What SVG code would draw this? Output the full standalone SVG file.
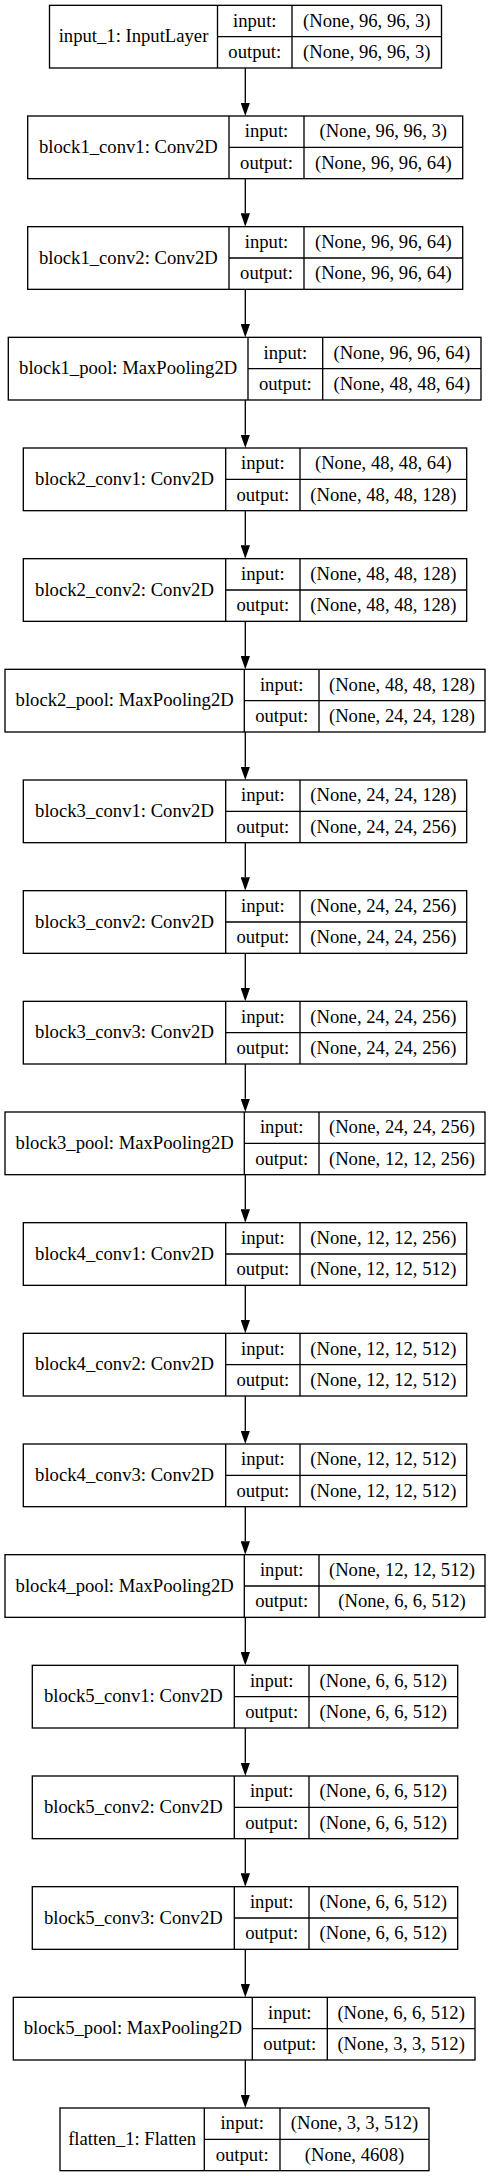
<svg xmlns="http://www.w3.org/2000/svg" width="491" height="2176" viewBox="0 0 491 2176">
<style>
.b{fill:#fff;stroke:#000;stroke-width:1.33}
.l{stroke:#000;stroke-width:1.33;fill:none}
text{font-family:"Liberation Serif","Times New Roman",serif;font-size:18.67px;fill:#000;text-anchor:middle}
.e{stroke:#000;stroke-width:1.33;fill:none;marker-end:url(#ah)}
</style>
<defs>
<marker id="ah" viewBox="0 0 10 7" refX="0" refY="3.5" markerWidth="13.33" markerHeight="9.33" markerUnits="userSpaceOnUse" orient="auto">
<path d="M0,0 L10,3.5 L0,7 z" fill="#000"/>
</marker>
</defs>
<rect width="491" height="2176" fill="#fff"/>
<g id="connectors">
<line class="e" x1="245.3" y1="68" x2="245.3" y2="102.67"/>
<line class="e" x1="245.3" y1="178.67" x2="245.3" y2="213.33"/>
<line class="e" x1="245.3" y1="289.33" x2="245.3" y2="324"/>
<line class="e" x1="245.3" y1="400" x2="245.3" y2="434.67"/>
<line class="e" x1="245.3" y1="510.67" x2="245.3" y2="545.33"/>
<line class="e" x1="245.3" y1="621.33" x2="245.3" y2="656"/>
<line class="e" x1="245.3" y1="732" x2="245.3" y2="766.67"/>
<line class="e" x1="245.3" y1="842.67" x2="245.3" y2="877.33"/>
<line class="e" x1="245.3" y1="953.33" x2="245.3" y2="988"/>
<line class="e" x1="245.3" y1="1064" x2="245.3" y2="1098.67"/>
<line class="e" x1="245.3" y1="1174.67" x2="245.3" y2="1209.33"/>
<line class="e" x1="245.3" y1="1285.33" x2="245.3" y2="1320"/>
<line class="e" x1="245.3" y1="1396" x2="245.3" y2="1430.67"/>
<line class="e" x1="245.3" y1="1506.67" x2="245.3" y2="1541.33"/>
<line class="e" x1="245.3" y1="1617.33" x2="245.3" y2="1652"/>
<line class="e" x1="245.3" y1="1728" x2="245.3" y2="1762.67"/>
<line class="e" x1="245.3" y1="1838.67" x2="245.3" y2="1873.33"/>
<line class="e" x1="245.3" y1="1949.33" x2="245.3" y2="1984"/>
<line class="e" x1="245.3" y1="2060" x2="245.3" y2="2094.67"/>
</g>
<g id="input_1" transform="translate(0,5.33)">
<rect class="b" x="49.5" y="0" width="392" height="62.67"/>
<path class="l" d="M217.5,0V62.67M292,0V62.67M217.5,31.33H441.5"/>
<text x="133.5" y="36.93">input_1: InputLayer</text>
<text x="254.75" y="21.27">input:</text><text x="254.75" y="52.6">output:</text>
<text x="366.75" y="21.27">(None, 96, 96, 3)</text><text x="366.75" y="52.6">(None, 96, 96, 3)</text>
</g>
<g id="block1_conv1" transform="translate(0,116)">
<rect class="b" x="27.7" y="0" width="435" height="62.67"/>
<path class="l" d="M229,0V62.67M304,0V62.67M229,31.33H462.7"/>
<text x="128.35" y="36.93">block1_conv1: Conv2D</text>
<text x="266.5" y="21.27">input:</text><text x="266.5" y="52.6">output:</text>
<text x="383.35" y="21.27">(None, 96, 96, 3)</text><text x="383.35" y="52.6">(None, 96, 96, 64)</text>
</g>
<g id="block1_conv2" transform="translate(0,226.67)">
<rect class="b" x="27.7" y="0" width="435" height="62.67"/>
<path class="l" d="M229,0V62.67M304,0V62.67M229,31.33H462.7"/>
<text x="128.35" y="36.93">block1_conv2: Conv2D</text>
<text x="266.5" y="21.27">input:</text><text x="266.5" y="52.6">output:</text>
<text x="383.35" y="21.27">(None, 96, 96, 64)</text><text x="383.35" y="52.6">(None, 96, 96, 64)</text>
</g>
<g id="block1_pool" transform="translate(0,337.33)">
<rect class="b" x="8.3" y="0" width="472.7" height="62.67"/>
<path class="l" d="M248,0V62.67M322.7,0V62.67M248,31.33H481"/>
<text x="128.15" y="36.93">block1_pool: MaxPooling2D</text>
<text x="285.35" y="21.27">input:</text><text x="285.35" y="52.6">output:</text>
<text x="401.85" y="21.27">(None, 96, 96, 64)</text><text x="401.85" y="52.6">(None, 48, 48, 64)</text>
</g>
<g id="block2_conv1" transform="translate(0,448)">
<rect class="b" x="23.3" y="0" width="443.4" height="62.67"/>
<path class="l" d="M225.7,0V62.67M300,0V62.67M225.7,31.33H466.7"/>
<text x="124.5" y="36.93">block2_conv1: Conv2D</text>
<text x="262.85" y="21.27">input:</text><text x="262.85" y="52.6">output:</text>
<text x="383.35" y="21.27">(None, 48, 48, 64)</text><text x="383.35" y="52.6">(None, 48, 48, 128)</text>
</g>
<g id="block2_conv2" transform="translate(0,558.67)">
<rect class="b" x="23.3" y="0" width="443.4" height="62.67"/>
<path class="l" d="M225.7,0V62.67M300,0V62.67M225.7,31.33H466.7"/>
<text x="124.5" y="36.93">block2_conv2: Conv2D</text>
<text x="262.85" y="21.27">input:</text><text x="262.85" y="52.6">output:</text>
<text x="383.35" y="21.27">(None, 48, 48, 128)</text><text x="383.35" y="52.6">(None, 48, 48, 128)</text>
</g>
<g id="block2_pool" transform="translate(0,669.33)">
<rect class="b" x="5" y="0" width="480" height="62.67"/>
<path class="l" d="M244.3,0V62.67M319,0V62.67M244.3,31.33H485"/>
<text x="124.65" y="36.93">block2_pool: MaxPooling2D</text>
<text x="281.65" y="21.27">input:</text><text x="281.65" y="52.6">output:</text>
<text x="402" y="21.27">(None, 48, 48, 128)</text><text x="402" y="52.6">(None, 24, 24, 128)</text>
</g>
<g id="block3_conv1" transform="translate(0,780)">
<rect class="b" x="23.3" y="0" width="443.4" height="62.67"/>
<path class="l" d="M225.7,0V62.67M300,0V62.67M225.7,31.33H466.7"/>
<text x="124.5" y="36.93">block3_conv1: Conv2D</text>
<text x="262.85" y="21.27">input:</text><text x="262.85" y="52.6">output:</text>
<text x="383.35" y="21.27">(None, 24, 24, 128)</text><text x="383.35" y="52.6">(None, 24, 24, 256)</text>
</g>
<g id="block3_conv2" transform="translate(0,890.67)">
<rect class="b" x="23.3" y="0" width="443.4" height="62.67"/>
<path class="l" d="M225.7,0V62.67M300,0V62.67M225.7,31.33H466.7"/>
<text x="124.5" y="36.93">block3_conv2: Conv2D</text>
<text x="262.85" y="21.27">input:</text><text x="262.85" y="52.6">output:</text>
<text x="383.35" y="21.27">(None, 24, 24, 256)</text><text x="383.35" y="52.6">(None, 24, 24, 256)</text>
</g>
<g id="block3_conv3" transform="translate(0,1001.33)">
<rect class="b" x="23.3" y="0" width="443.4" height="62.67"/>
<path class="l" d="M225.7,0V62.67M300,0V62.67M225.7,31.33H466.7"/>
<text x="124.5" y="36.93">block3_conv3: Conv2D</text>
<text x="262.85" y="21.27">input:</text><text x="262.85" y="52.6">output:</text>
<text x="383.35" y="21.27">(None, 24, 24, 256)</text><text x="383.35" y="52.6">(None, 24, 24, 256)</text>
</g>
<g id="block3_pool" transform="translate(0,1112)">
<rect class="b" x="5" y="0" width="480" height="62.67"/>
<path class="l" d="M244.3,0V62.67M319,0V62.67M244.3,31.33H485"/>
<text x="124.65" y="36.93">block3_pool: MaxPooling2D</text>
<text x="281.65" y="21.27">input:</text><text x="281.65" y="52.6">output:</text>
<text x="402" y="21.27">(None, 24, 24, 256)</text><text x="402" y="52.6">(None, 12, 12, 256)</text>
</g>
<g id="block4_conv1" transform="translate(0,1222.67)">
<rect class="b" x="23.3" y="0" width="443.4" height="62.67"/>
<path class="l" d="M225.7,0V62.67M300,0V62.67M225.7,31.33H466.7"/>
<text x="124.5" y="36.93">block4_conv1: Conv2D</text>
<text x="262.85" y="21.27">input:</text><text x="262.85" y="52.6">output:</text>
<text x="383.35" y="21.27">(None, 12, 12, 256)</text><text x="383.35" y="52.6">(None, 12, 12, 512)</text>
</g>
<g id="block4_conv2" transform="translate(0,1333.33)">
<rect class="b" x="23.3" y="0" width="443.4" height="62.67"/>
<path class="l" d="M225.7,0V62.67M300,0V62.67M225.7,31.33H466.7"/>
<text x="124.5" y="36.93">block4_conv2: Conv2D</text>
<text x="262.85" y="21.27">input:</text><text x="262.85" y="52.6">output:</text>
<text x="383.35" y="21.27">(None, 12, 12, 512)</text><text x="383.35" y="52.6">(None, 12, 12, 512)</text>
</g>
<g id="block4_conv3" transform="translate(0,1444)">
<rect class="b" x="23.3" y="0" width="443.4" height="62.67"/>
<path class="l" d="M225.7,0V62.67M300,0V62.67M225.7,31.33H466.7"/>
<text x="124.5" y="36.93">block4_conv3: Conv2D</text>
<text x="262.85" y="21.27">input:</text><text x="262.85" y="52.6">output:</text>
<text x="383.35" y="21.27">(None, 12, 12, 512)</text><text x="383.35" y="52.6">(None, 12, 12, 512)</text>
</g>
<g id="block4_pool" transform="translate(0,1554.67)">
<rect class="b" x="5" y="0" width="480" height="62.67"/>
<path class="l" d="M244.3,0V62.67M319,0V62.67M244.3,31.33H485"/>
<text x="124.65" y="36.93">block4_pool: MaxPooling2D</text>
<text x="281.65" y="21.27">input:</text><text x="281.65" y="52.6">output:</text>
<text x="402" y="21.27">(None, 12, 12, 512)</text><text x="402" y="52.6">(None, 6, 6, 512)</text>
</g>
<g id="block5_conv1" transform="translate(0,1665.33)">
<rect class="b" x="32.3" y="0" width="425.4" height="62.67"/>
<path class="l" d="M234.3,0V62.67M309,0V62.67M234.3,31.33H457.7"/>
<text x="133.3" y="36.93">block5_conv1: Conv2D</text>
<text x="271.65" y="21.27">input:</text><text x="271.65" y="52.6">output:</text>
<text x="383.35" y="21.27">(None, 6, 6, 512)</text><text x="383.35" y="52.6">(None, 6, 6, 512)</text>
</g>
<g id="block5_conv2" transform="translate(0,1776)">
<rect class="b" x="32.3" y="0" width="425.4" height="62.67"/>
<path class="l" d="M234.3,0V62.67M309,0V62.67M234.3,31.33H457.7"/>
<text x="133.3" y="36.93">block5_conv2: Conv2D</text>
<text x="271.65" y="21.27">input:</text><text x="271.65" y="52.6">output:</text>
<text x="383.35" y="21.27">(None, 6, 6, 512)</text><text x="383.35" y="52.6">(None, 6, 6, 512)</text>
</g>
<g id="block5_conv3" transform="translate(0,1886.67)">
<rect class="b" x="32.3" y="0" width="425.4" height="62.67"/>
<path class="l" d="M234.3,0V62.67M309,0V62.67M234.3,31.33H457.7"/>
<text x="133.3" y="36.93">block5_conv3: Conv2D</text>
<text x="271.65" y="21.27">input:</text><text x="271.65" y="52.6">output:</text>
<text x="383.35" y="21.27">(None, 6, 6, 512)</text><text x="383.35" y="52.6">(None, 6, 6, 512)</text>
</g>
<g id="block5_pool" transform="translate(0,1997.33)">
<rect class="b" x="13.3" y="0" width="461.7" height="62.67"/>
<path class="l" d="M252.3,0V62.67M327.3,0V62.67M252.3,31.33H475"/>
<text x="132.8" y="36.93">block5_pool: MaxPooling2D</text>
<text x="289.8" y="21.27">input:</text><text x="289.8" y="52.6">output:</text>
<text x="401.15" y="21.27">(None, 6, 6, 512)</text><text x="401.15" y="52.6">(None, 3, 3, 512)</text>
</g>
<g id="flatten_1" transform="translate(0,2108)">
<rect class="b" x="60" y="0" width="369" height="62.67"/>
<path class="l" d="M204.3,0V62.67M280,0V62.67M204.3,31.33H429"/>
<text x="132.15" y="36.93">flatten_1: Flatten</text>
<text x="242.15" y="21.27">input:</text><text x="242.15" y="52.6">output:</text>
<text x="354.5" y="21.27">(None, 3, 3, 512)</text><text x="354.5" y="52.6">(None, 4608)</text>
</g>
</svg>
